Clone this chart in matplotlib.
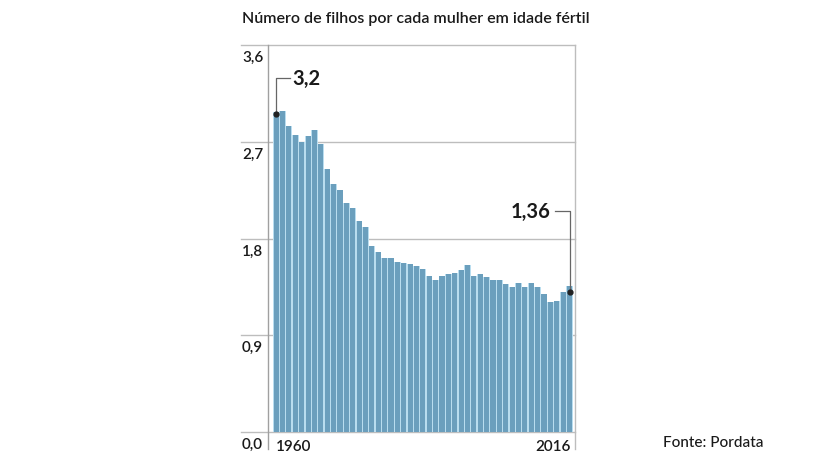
import matplotlib
matplotlib.use("Agg")
import matplotlib.pyplot as plt
import matplotlib.transforms as mtransforms
import numpy as np

plt.rcParams['font.family'] = ['Lato', 'DejaVu Sans']

# Índice sintético de fecundidade (bars as drawn in the reference)
values = [2.98, 2.99, 2.85, 2.76, 2.70, 2.75, 2.81, 2.68, 2.45, 2.31,
          2.25, 2.13, 2.08, 1.96, 1.91, 1.73, 1.67, 1.62, 1.62, 1.58,
          1.57, 1.56, 1.54, 1.52, 1.45, 1.41, 1.45, 1.47, 1.48, 1.51,
          1.55, 1.45, 1.47, 1.44, 1.41, 1.41, 1.38, 1.35, 1.39, 1.35,
          1.39, 1.35, 1.28, 1.21, 1.22, 1.30, 1.36]
yticks = [0.0, 0.9, 1.8, 2.7, 3.6]
ytick_labels = ["0,0", "0,9", "1,8", "2,7", "3,6"]
first_label = "1960"
last_label = "2016"
first_note = "3,2"
last_note = "1,36"
title = "Número de filhos por cada mulher em idade fértil"
source = "Fonte: Pordata"

bar_color = "#6b9fbd"
gap_color = "#b9ddef"
line_color = "#bdbdbd"
text_color = "#1a1a1a"

fig = plt.figure(figsize=(8.17, 4.60), dpi=100)
ax = fig.add_axes([268 / 817, 27 / 460, 307 / 817, 387 / 460])

x = np.arange(len(values))
ax.bar(x, values, width=1.0, color=gap_color, zorder=2)
ax.bar(x, values, width=0.79, color=bar_color, zorder=3)

ax.set_xlim(-1.29, len(values) - 1 + 0.86)
ax.set_ylim(0, 3.6)
ax.set_xticks([])
ax.set_yticks([])
for s in ax.spines.values():
    s.set_visible(False)

# gridlines extending under the tick labels
blend = mtransforms.blended_transform_factory(ax.transAxes, ax.transData)
for v, lab in zip(yticks, ytick_labels):
    ax.plot([-0.088, 1], [v, v], transform=blend, color=line_color,
            lw=1.0, clip_on=False, zorder=1)
    ax.annotate(lab, xy=(-0.085, v), xycoords=blend, xytext=(0, -3.5),
                textcoords="offset points", ha="left", va="top",
                fontsize=11, fontweight="semibold", color=text_color)

# frame lines left and right, running below the baseline
ax.plot([0, 0], [1, -0.045], transform=ax.transAxes, color="#a0a0a0",
        lw=1.0, clip_on=False, zorder=4)
ax.plot([1, 1], [1, -0.045], transform=ax.transAxes, color=line_color,
        lw=1.0, clip_on=False, zorder=4)

# year labels
xblend = mtransforms.blended_transform_factory(ax.transData, ax.transAxes)
ax.text(-0.1, -0.018, first_label, transform=xblend, ha="left", va="top",
        fontsize=11, fontweight="semibold", color=text_color)
ax.text(len(values) - 1 + 0.15, -0.018, last_label, transform=xblend,
        ha="right", va="top", fontsize=11, fontweight="semibold",
        color=text_color)

# annotations on first and last bars
i0, v0 = 0, values[0]
ax.plot([i0], [v0 - 0.02], "o", color="#222222", ms=3.5, zorder=6)
ax.plot([i0, i0, i0 + 2.15], [v0 - 0.02, v0 + 0.31, v0 + 0.31],
        color="#666666", lw=0.9, zorder=5, clip_on=False)
ax.text(i0 + 2.6, v0 + 0.31, first_note, ha="left", va="center",
        fontsize=14.5, fontweight="bold", color=text_color)

i1, v1 = len(values) - 1, values[-1]
ax.plot([i1], [v1 - 0.06], "o", color="#222222", ms=3.5, zorder=6)
ax.plot([i1, i1, i1 - 2.3], [v1 - 0.06, v1 + 0.70, v1 + 0.70],
        color="#666666", lw=0.9, zorder=5)
ax.text(i1 - 3.05, v1 + 0.70, last_note, ha="right", va="center",
        fontsize=14.5, fontweight="bold", color=text_color)

fig.text(242 / 817, 1 - 19 / 460, title, ha="left", va="center",
         fontsize=11.5, fontweight="semibold", color=text_color)
fig.text(663 / 817, 1 - 443 / 460, source, ha="left", va="center",
         fontsize=11, fontweight="medium", color=text_color)

fig.savefig("out.png", dpi=100)
